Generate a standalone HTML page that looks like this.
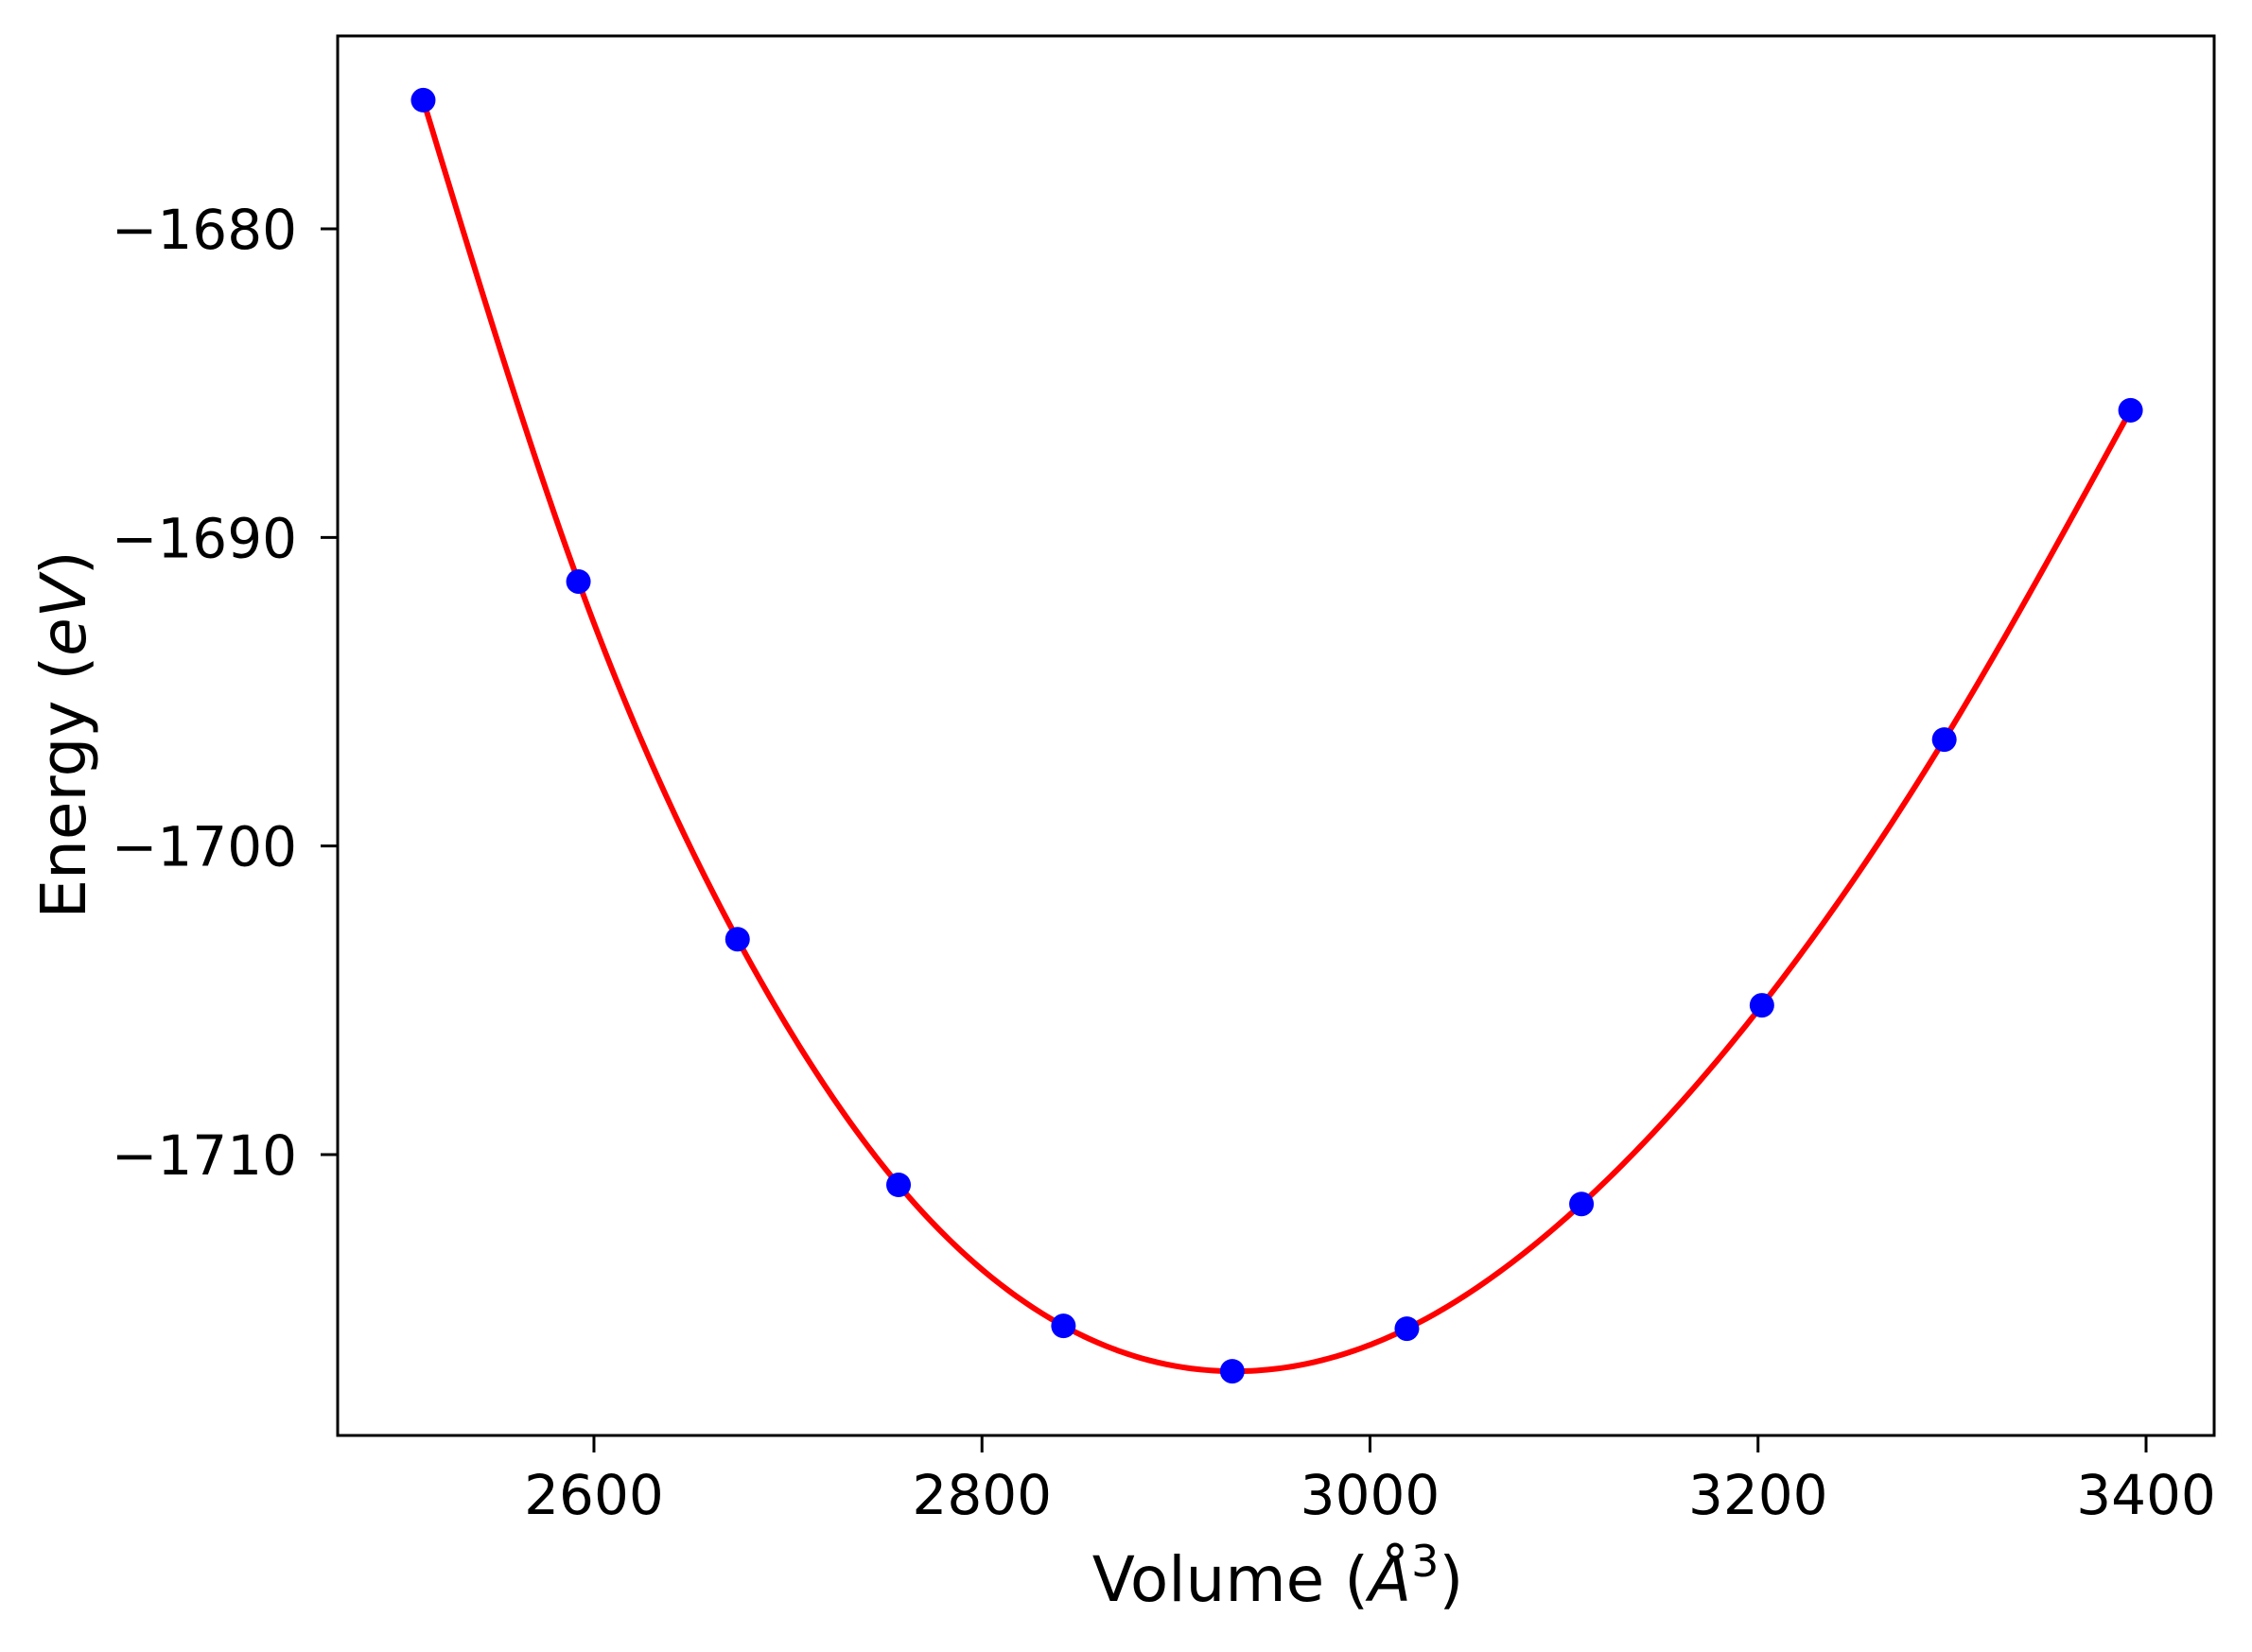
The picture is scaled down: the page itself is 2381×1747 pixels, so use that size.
<!DOCTYPE html>
<html><head><meta charset="utf-8"><style>
html,body{margin:0;padding:0;background:#fff;}
svg{display:block;font-family:"DejaVu Sans","Liberation Sans",sans-serif;}
</style></head><body>
<svg id="chart" width="2381" height="1747" viewBox="0 0 2381 1747" xmlns="http://www.w3.org/2000/svg">
<rect x="0" y="0" width="2381" height="1747" fill="#fff"/>
<g id="curve-layer"></g>
<g id="points-layer"></g>
<rect x="357" y="38" width="1984" height="1480" fill="none" stroke="#000" stroke-width="3"/>
<g id="xticks"></g>
<g id="yticks"></g>
<text x="1351" y="1693" font-size="66" text-anchor="middle">Volume (<tspan font-style="italic">Å</tspan><tspan font-size="46" dy="-26">3</tspan><tspan dy="26">)</tspan></text>
<text transform="translate(90,777) rotate(-90)" font-size="66" text-anchor="middle">Energy (<tspan font-style="italic">eV</tspan>)</text>
</svg>
<script>
const volumes = [2512, 2592, 2674, 2757, 2842, 2929, 3019, 3109, 3202, 3296, 3392];
const energies = [-1675.83, -1691.43, -1703.02, -1710.98, -1715.55, -1717.02, -1715.64, -1711.60, -1705.16, -1696.55, -1685.88];
const xTicks = [2600, 2800, 3000, 3200, 3400];
const yTicks = [-1680, -1690, -1700, -1710];

const X0 = 357, X1 = 2341, Y0 = 38, Y1 = 1518;
const xMin = 2467.9, xMax = 3435.1, yMin = -1719.1, yMax = -1673.75;
function sx(v){ return X0 + (v - xMin) / (xMax - xMin) * (X1 - X0); }
function sy(v){ return Y1 - (v - yMin) / (yMax - yMin) * (Y1 - Y0); }
const NS = "http://www.w3.org/2000/svg";

// natural cubic spline through data
function spline(xs, ys){
  const n = xs.length, h = [], a = [], l = [1], mu = [0], z = [0], c = new Array(n).fill(0), b = [], d = [];
  for (let i=0;i<n-1;i++) h.push(xs[i+1]-xs[i]);
  for (let i=1;i<n-1;i++) a[i] = 3/h[i]*(ys[i+1]-ys[i]) - 3/h[i-1]*(ys[i]-ys[i-1]);
  for (let i=1;i<n-1;i++){ l[i]=2*(xs[i+1]-xs[i-1])-h[i-1]*mu[i-1]; mu[i]=h[i]/l[i]; z[i]=(a[i]-h[i-1]*z[i-1])/l[i]; }
  z[n-1]=0;
  for (let j=n-2;j>=0;j--){ c[j]=z[j]-mu[j]*c[j+1]; b[j]=(ys[j+1]-ys[j])/h[j]-h[j]*(c[j+1]+2*c[j])/3; d[j]=(c[j+1]-c[j])/(3*h[j]); }
  return function(x){
    let i = 0; while (i < n-2 && x > xs[i+1]) i++;
    const t = x - xs[i];
    return ys[i] + b[i]*t + c[i]*t*t + d[i]*t*t*t;
  };
}
const f = spline(volumes, energies);
let dstr = "";
const vStart = volumes[0], vEnd = volumes[volumes.length-1];
for (let k=0;k<=400;k++){
  const v = vStart + (vEnd - vStart) * k / 400;
  dstr += (k ? "L" : "M") + sx(v).toFixed(2) + "," + sy(f(v)).toFixed(2);
}
const path = document.createElementNS(NS, "path");
path.setAttribute("d", dstr);
path.setAttribute("fill", "none");
path.setAttribute("stroke", "#ff0000");
path.setAttribute("stroke-width", "6");


document.getElementById("curve-layer").appendChild(path);

volumes.forEach((v, i) => {
  const c = document.createElementNS(NS, "circle");
  c.setAttribute("cx", sx(v));
  c.setAttribute("cy", sy(energies[i]));
  c.setAttribute("r", "13");
  c.setAttribute("fill", "#0000ff");
  
  
  document.getElementById("points-layer").appendChild(c);
});

xTicks.forEach(t => {
  const x = sx(t);
  const ln = document.createElementNS(NS, "line");
  ln.setAttribute("x1", x); ln.setAttribute("x2", x);
  ln.setAttribute("y1", Y1); ln.setAttribute("y2", Y1 + 18);
  ln.setAttribute("stroke", "#000"); ln.setAttribute("stroke-width", "3");
  
  
  document.getElementById("xticks").appendChild(ln);
  const tx = document.createElementNS(NS, "text");
  tx.setAttribute("x", x); tx.setAttribute("y", Y1 + 83);
  tx.setAttribute("font-size", "58"); tx.setAttribute("text-anchor", "middle");
  tx.textContent = String(t);
  
  
  document.getElementById("xticks").appendChild(tx);
});
yTicks.forEach(t => {
  const y = sy(t);
  const ln = document.createElementNS(NS, "line");
  ln.setAttribute("x1", X0 - 18); ln.setAttribute("x2", X0);
  ln.setAttribute("y1", y); ln.setAttribute("y2", y);
  ln.setAttribute("stroke", "#000"); ln.setAttribute("stroke-width", "3");
  
  
  document.getElementById("yticks").appendChild(ln);
  const tx = document.createElementNS(NS, "text");
  tx.setAttribute("x", 314); tx.setAttribute("y", y + 21);
  tx.setAttribute("font-size", "58"); tx.setAttribute("text-anchor", "end");
  tx.textContent = "\u2212" + String(Math.abs(t));
  
  
  document.getElementById("yticks").appendChild(tx);
});
</script>
</body></html>
